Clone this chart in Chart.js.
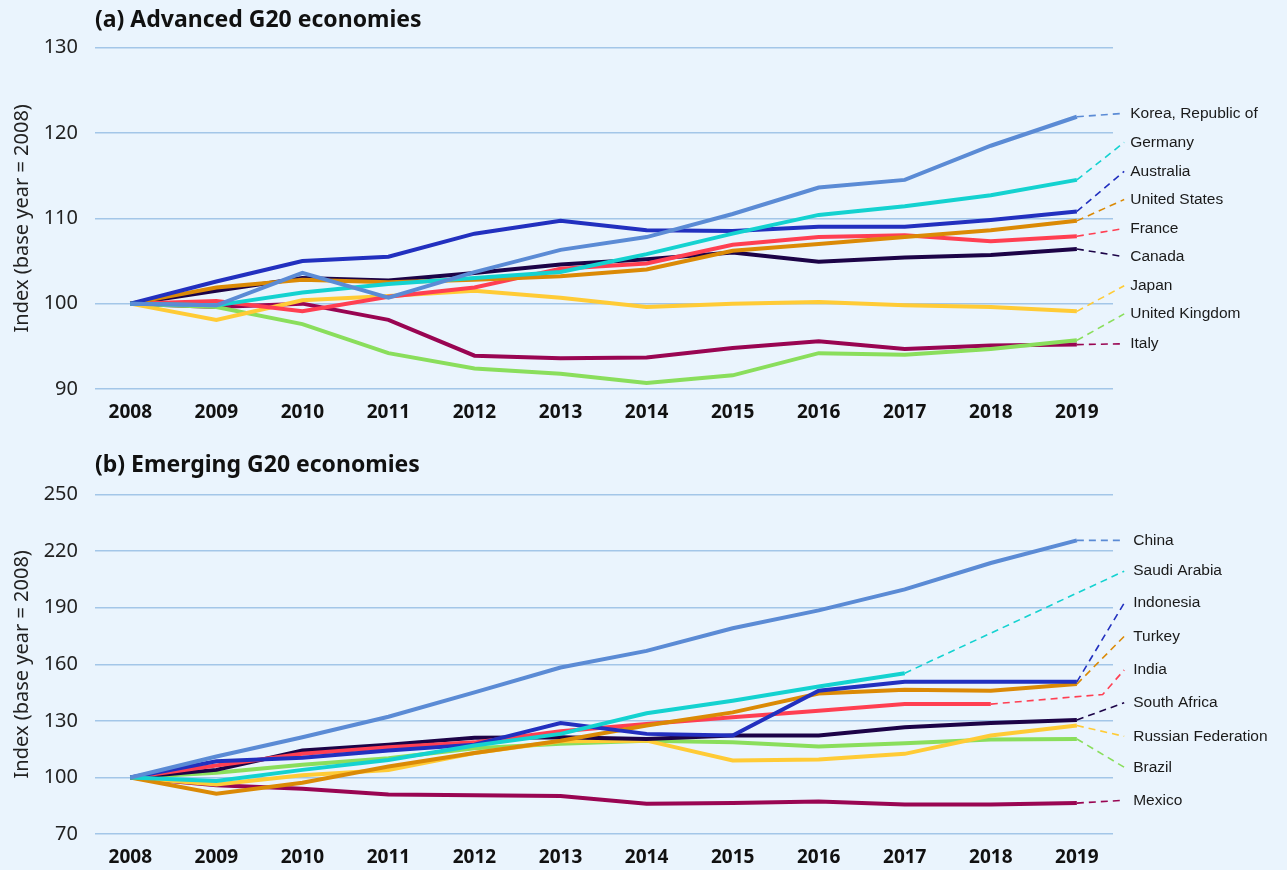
<!DOCTYPE html>
<html lang="en">
<head>
<meta charset="UTF-8">
<title>G20 index</title>
<script src="https://cdn.jsdelivr.net/npm/chart.js"></script>
<style>
  body { margin: 0; background: #eaf4fd; }
  .box { position: absolute; left: 0; width: 1287px; }
</style>
</head>
<body>
<div class="box" style="top:0;height:425px"><canvas id="advanced"></canvas></div>
<div class="box" style="top:440px;height:430px"><canvas id="emerging"></canvas></div>
<script>
const years = [2008, 2009, 2010, 2011, 2012, 2013, 2014, 2015, 2016, 2017, 2018, 2019];

// (a) advanced economies, index 2008 = 100
const advNames = ['Korea, Republic of', 'Germany', 'Australia', 'United States', 'France', 'Canada', 'Japan', 'United Kingdom', 'Italy'];
const korea     = [100, 99.8, 103.6, 100.7, 103.7, 106.3, 107.8, 110.5, 113.6, 114.5, 118.5, 121.9];
const germany   = [100, 99.8, 101.3, 102.3, 103.0, 103.7, 105.8, 108.2, 110.4, 111.4, 112.7, 114.5];
const australia = [100, 102.6, 105.0, 105.5, 108.2, 109.7, 108.6, 108.5, 109.0, 109.0, 109.8, 110.8];
const usa       = [100, 101.9, 102.8, 102.5, 102.8, 103.2, 104.0, 106.2, 107.0, 107.8, 108.6, 109.7];
const france    = [100, 100.3, 99.1, 100.8, 101.9, 104.1, 104.7, 106.9, 107.8, 108.0, 107.3, 107.9];
const canada    = [100, 101.5, 103.0, 102.7, 103.6, 104.6, 105.2, 106.0, 104.9, 105.4, 105.7, 106.4];
const japan     = [100, 98.1, 100.4, 100.9, 101.5, 100.7, 99.6, 100.0, 100.2, 99.8, 99.6, 99.1];
const uk        = [100, 99.6, 97.6, 94.2, 92.4, 91.8, 90.7, 91.6, 94.2, 94.0, 94.7, 95.7];
const italy     = [100, 99.6, 100.0, 98.1, 93.9, 93.6, 93.7, 94.8, 95.6, 94.7, 95.1, 95.2];
const advLabelAt = [122.3, 118.9, 115.5, 112.2, 108.8, 105.5, 102.1, 98.8, 95.3];

// (b) emerging economies, index 2008 = 100
const emgNames = ['China', 'Saudi Arabia', 'Indonesia', 'Turkey', 'India', 'South Africa', 'Russian Federation', 'Brazil', 'Mexico'];
const china       = [100, 111.1, 121.3, 132.2, 145.1, 158.3, 167.1, 179.1, 188.6, 199.7, 213.7, 225.7];
const saudi       = [100, 98.1, 104.0, 109.3, 116.9, 123.1, 134.0, 140.7, 148.2, 155.3, null, null];
const indonesia   = [100, 108.6, 110.4, 114.3, 117.4, 128.9, 123.1, 122.2, 146.0, 150.7, 150.7, 150.7];
const turkey      = [100, 91.4, 97.2, 105.8, 113.0, 119.5, 127.5, 134.5, 144.5, 146.5, 146.0, 149.5];
const india       = [100, 106.3, 112.5, 116.0, 118.6, 124.5, 128.4, 131.9, 135.4, 138.9, 138.9, null];
const southAfrica = [100, 104.0, 114.3, 117.4, 121.0, 121.3, 120.4, 122.2, 122.2, 126.6, 128.9, 130.5];
const russia      = [100, 96.3, 101.1, 104.0, 113.0, 119.2, 119.5, 109.0, 109.5, 112.5, 122.2, 127.5];
const brazil      = [100, 102.5, 106.7, 110.2, 115.5, 117.8, 119.5, 118.6, 116.4, 118.1, 120.1, 120.4];
const mexico      = [100, 95.8, 94.0, 90.9, 90.5, 90.1, 86.1, 86.4, 87.3, 85.7, 85.6, 86.4];
const indiaBend   = [2019.3, 144.0];
const emgLabelAt = [225.7, 209.4, 192.5, 174.8, 157.0, 139.6, 121.8, 105.4, 87.9];

const labelX = 2019.55;
const colors = ['#5b8bd5', '#14d2d0', '#2230bf', '#db8a06', '#ff3f52', '#1c0347', '#ffcb36', '#8ade5c', '#990552'];
const sans = '"Noto Sans", "Open Sans", sans-serif';

function solidSet(values, color) {
  return {
    data: years.map((y, i) => ({ x: y, y: values[i] })),
    borderColor: color, borderWidth: 4, pointRadius: 0, tension: 0
  };
}

// dashed leader from the last value to the country label
function dashSet(values, color, labelY, extra) {
  let last = values.length - 1;
  while (values[last] == null) last--;
  const pts = [{ x: years[last], y: values[last] }];
  if (extra) pts.push({ x: extra[0], y: extra[1] });
  pts.push({ x: labelX, y: labelY });
  return {
    data: pts, borderColor: color, borderWidth: 1.6, borderDash: [7, 5],
    pointRadius: 0, tension: 0, clip: false
  };
}

const endLabels = {
  id: 'endLabels',
  afterDatasetsDraw(chart, args, opts) {
    const { ctx, scales: { x, y } } = chart;
    ctx.save();
    ctx.font = '15.5px "Liberation Sans", Arial, sans-serif';
    ctx.fillStyle = '#1a1a1a';
    ctx.textBaseline = 'middle';
    opts.names.forEach((n, i) => {
      ctx.fillText(n, x.getPixelForValue(labelX) + opts.gap, y.getPixelForValue(opts.at[i]));
    });
    ctx.restore();
  }
};

function makeChart(id, title, series, names, labelAt, yMin, yMax, step, pad, extras) {
  const datasets = [];
  series.forEach((s, i) => datasets.push(solidSet(s, colors[i])));
  series.forEach((s, i) => datasets.push(dashSet(s, colors[i], labelAt[i], extras[i])));
  return new Chart(document.getElementById(id), {
    type: 'line',
    data: { datasets },
    plugins: [endLabels],
    options: {
      responsive: true,
      maintainAspectRatio: false,
      animation: false,
      layout: { padding: { top: 0, right: 174, bottom: 4, left: 0 } },
      plugins: {
        legend: { display: false },
        tooltip: { enabled: false },
        title: {
          display: true, text: title, align: 'start', fullSize: false, color: '#111',
          font: { family: sans, size: 23, weight: 'bold' },
          padding: { top: pad.titleTop, bottom: pad.titleBottom }
        },
        endLabels: { names, at: labelAt, gap: pad.gap }
      },
      scales: {
        x: {
          type: 'linear', min: 2007.59, max: 2019.42,
          afterBuildTicks: s => { s.ticks = years.map(v => ({ value: v })); },
          afterFit: s => { s.height = 32; },
          grid: { display: false, drawTicks: false },
          border: { display: false },
          ticks: {
            padding: 12, color: '#111', callback: v => String(v),
            font: { family: sans, size: 19, weight: 'bold' }
          }
        },
        y: {
          min: yMin, max: yMax,
          afterFit: s => { s.width = 95; },
          grid: { color: '#a3c6e8', lineWidth: 1.5, drawTicks: false },
          border: { display: false },
          ticks: {
            stepSize: step, padding: 17, color: '#222',
            font: { family: sans, size: 20 }
          },
          title: {
            display: true, text: 'Index (base year = 2008)', color: '#222',
            font: { family: sans, size: 20 },
            padding: { top: 10, bottom: 0 }
          }
        }
      }
    }
  });
}

makeChart('advanced', '(a) Advanced G20 economies',
  [korea, germany, australia, usa, france, canada, japan, uk, italy],
  advNames, advLabelAt, 90, 130, 10,
  { titleTop: 7, titleBottom: 13, gap: 6 }, []);

makeChart('emerging', '(b) Emerging G20 economies',
  [china, saudi, indonesia, turkey, india, southAfrica, russia, brazil, mexico],
  emgNames, emgLabelAt, 70, 250, 30,
  { titleTop: 12, titleBottom: 15, gap: 9 }, [null, null, null, null, indiaBend]);
</script>
</body>
</html>
